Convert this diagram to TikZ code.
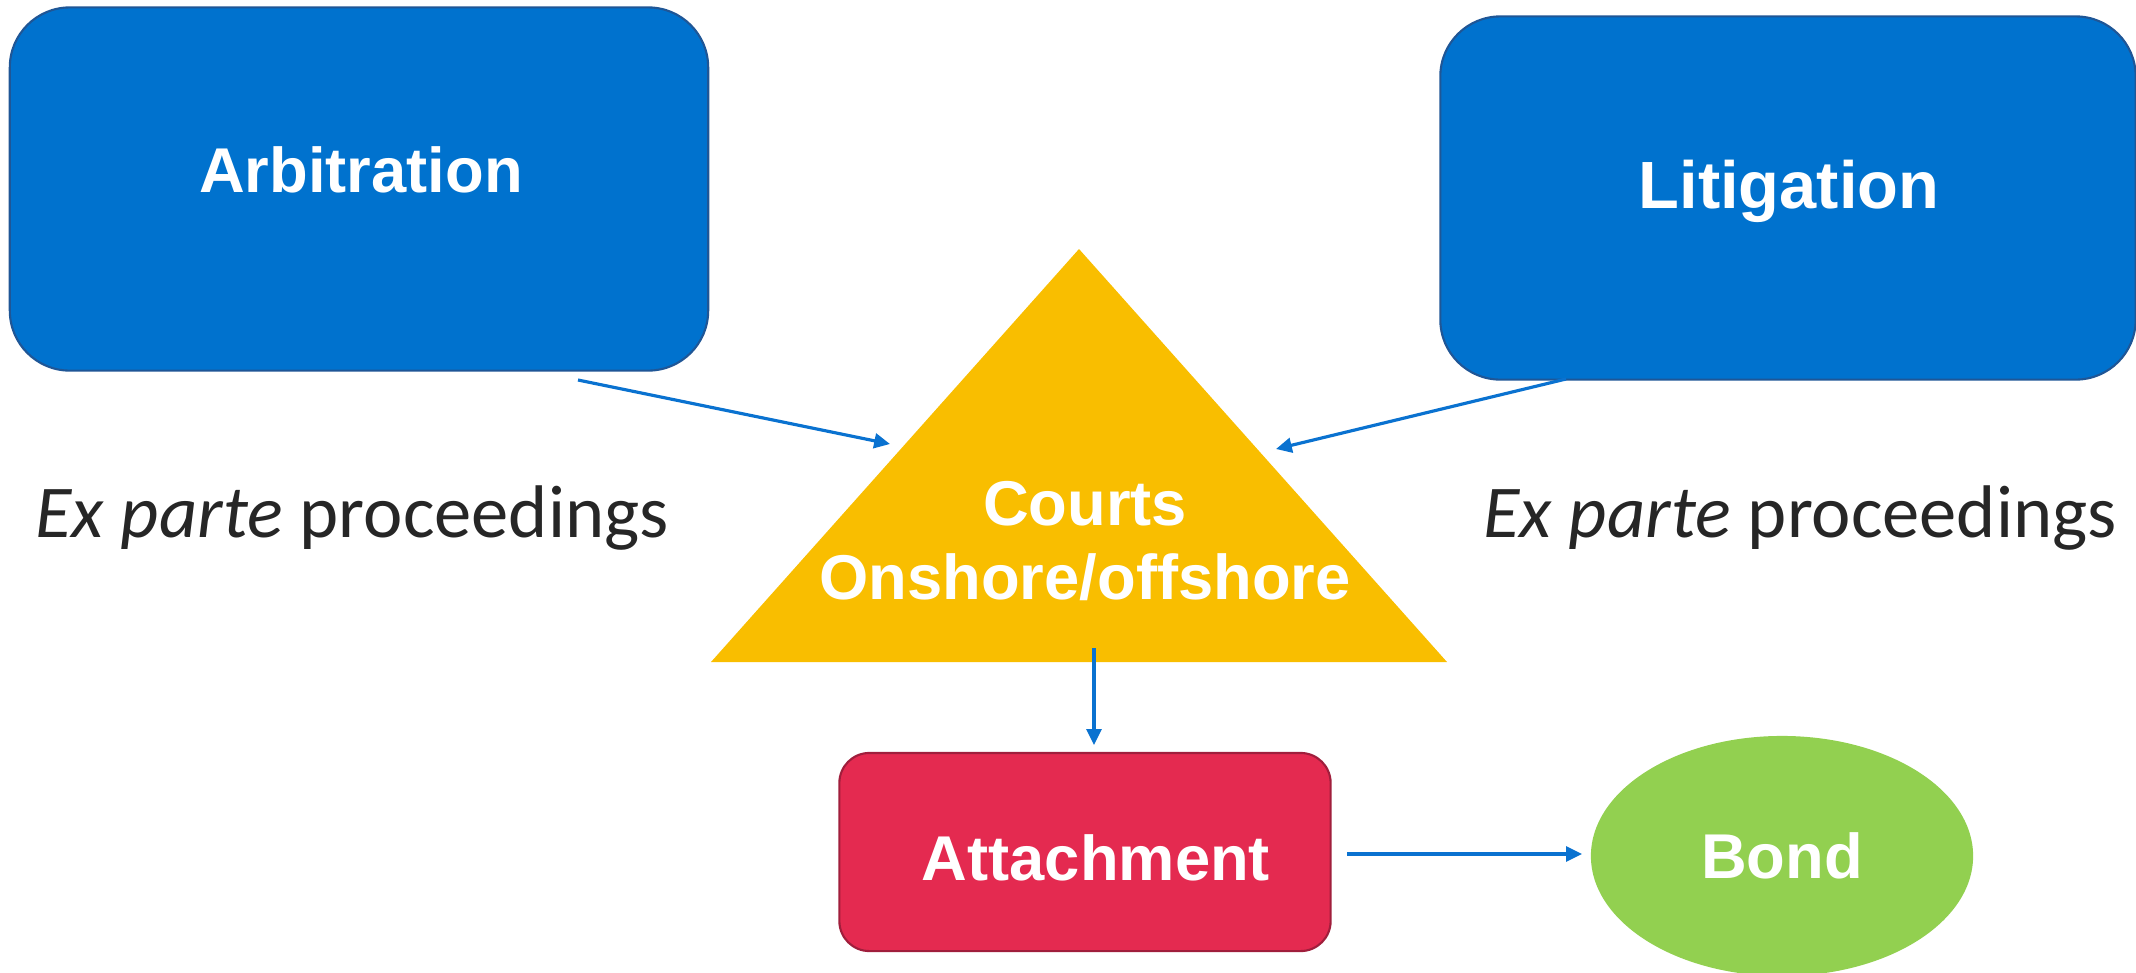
\documentclass[tikz,border=0pt]{standalone}
\usepackage{fontspec}
\setmainfont{Carlito}
\newfontfamily\arialfont{Liberation Sans}
\usepackage{xcolor}
\usepackage{tikz}
\usetikzlibrary{arrows.meta, shapes.geometric}

\definecolor{boxblau}{RGB}{0,114,206}
\definecolor{randblau}{RGB}{31,86,150}
\definecolor{pfeilblau}{RGB}{10,114,208}
\definecolor{dreieckgelb}{RGB}{249,190,0}
\definecolor{boxrot}{RGB}{228,42,80}
\definecolor{randrot}{RGB}{160,30,60}
\definecolor{ellipsegruen}{RGB}{146,208,80}
\definecolor{textgrau}{RGB}{38,38,38}

\tikzset{
  blaubox/.style={draw=randblau, line width=0.6pt, fill=boxblau, rounded corners=0.6cm,
    minimum height=3.63cm},
  rotbox/.style={draw=randrot, line width=0.6pt, fill=boxrot, rounded corners=0.3cm,
    minimum width=4.91cm, minimum height=1.98cm},
  weiss/.style={text=white, font=\arialfont\bfseries\fontsize{18}{21}\selectfont, align=center},
  hinweis/.style={text=textgrau, font=\fontsize{21.2}{25}\selectfont},
  pfeil/.style={-{Triangle[length=4.5pt, width=4.2pt]}, draw=pfeilblau, line width=0.9pt}
}

\begin{document}
\begin{tikzpicture}[x=0.01cm, y=-0.01cm]
\useasboundingbox (0,0) rectangle (2136,972);

% Boxen oben
\node[blaubox, minimum width=6.98cm] (arb) at (359,189) {};
\node[weiss] (arbtext) at (361,170) {Arbitration};

\node[blaubox, minimum width=6.95cm] (lit) at (1788,198) {};
\node[weiss, font=\arialfont\bfseries\fontsize{19}{22}\selectfont] (littext) at (1789,191) {Litigation};

% Dreieck
\coordinate (spitze) at (1079,249);
\coordinate (links) at (711,662);
\coordinate (rechts) at (1447,662);
\fill[dreieckgelb] (spitze) -- (links) -- (rechts) -- cycle;
\node[weiss] (courts) at (1085,541) {Courts\\Onshore/offshore};

% Boxen unten
\node[rotbox] (att) at (1085,852) {};
\node[weiss] (atttext) at (1096,858) {Attachment};

\node[ellipse, fill=ellipsegruen, minimum width=3.82cm, minimum height=2.4cm,
  weiss] (bond) at (1782,856) {Bond};

% Beschriftungen links und rechts
\node[hinweis] (exl) at (352,518) {\textit{Ex parte} proceedings};
\node[hinweis] (exr) at (1800,518) {\textit{Ex parte} proceedings};

% Pfeile
\coordinate (a1) at (578,380);
\coordinate (a2) at (890,444);
\coordinate (l1) at (1566,379);
\coordinate (l2) at (1276,449);
\coordinate (c1) at (1094,648);
\coordinate (c2) at (1094,745);
\coordinate (b1) at (1347,854);
\coordinate (b2) at (1582,854);

\draw[pfeil] (a1) -- (a2);
\draw[pfeil] (l1) -- (l2);
\draw[pfeil] (c1) -- (c2);
\draw[pfeil] (b1) -- (b2);

\end{tikzpicture}
\end{document}
